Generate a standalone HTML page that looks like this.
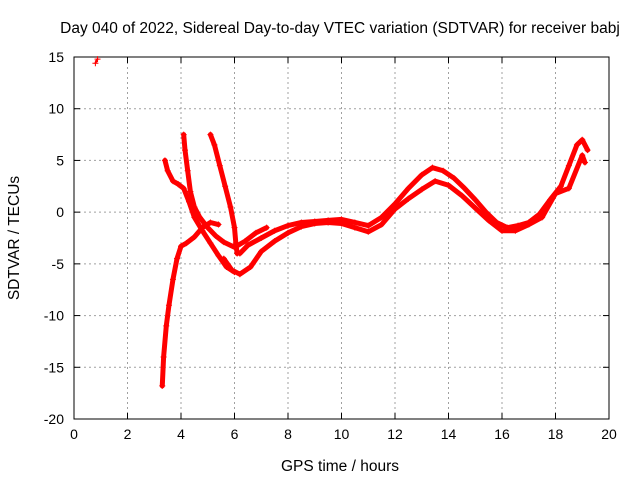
<!DOCTYPE html>
<html><head><meta charset="utf-8">
<style>
body{margin:0;background:#fff;}
svg{display:block;font-family:"Liberation Sans",sans-serif;}
</style></head>
<body>
<svg id="chart" width="640" height="480">
<rect width="640" height="480" fill="#fff"/>
<text x="340" y="33" text-anchor="middle" font-size="15.5">Day 040 of 2022, Sidereal Day-to-day VTEC variation (SDTVAR) for receiver babj</text>
<text x="340" y="471" text-anchor="middle" font-size="15.5">GPS time / hours</text>
<text transform="translate(19,238) rotate(-90)" text-anchor="middle" font-size="15.5">SDTVAR / TECUs</text>
<g id="grid"></g><g id="axes"></g><g id="marks"></g>
</svg>
<script>
const xTicks=[0,2,4,6,8,10,12,14,16,18,20];
const yTicks=[-20,-15,-10,-5,0,5,10,15];
const traceMainUpper=[[6.2,-4],[6.5,-3.2],[7,-2.5],[7.5,-1.8],[8,-1.3],[8.5,-1],[9,-0.9],[9.5,-0.8],[10,-0.7],[10.5,-1],[11,-1.3],[11.5,-0.5],[12,0.8],[12.5,2.3],[13,3.6],[13.4,4.3],[13.8,4],[14.2,3.3],[14.6,2.3],[15,1.2],[15.4,0],[15.8,-1],[16.2,-1.5],[16.6,-1.3],[17,-1],[17.4,-0.2],[17.8,1.2],[18.2,2.5],[18.5,4.5],[18.8,6.5],[19,7],[19.2,6]];
const traceMainLower=[[5.6,-4.5],[5.9,-5.6],[6.2,-6],[6.6,-5.3],[7,-3.8],[7.5,-2.8],[8,-2],[8.5,-1.4],[9,-1.1],[9.5,-1],[10,-1.1],[10.5,-1.5],[11,-1.9],[11.5,-1.2],[12,0.3],[12.5,1.3],[13,2.2],[13.5,3],[14,2.6],[14.5,1.6],[15,0.4],[15.5,-0.8],[16,-1.8],[16.5,-1.8],[17,-1.2],[17.5,-0.5],[18,1.8],[18.5,2.3],[19,5.5],[19.1,4.8]];
const traceRise=[[3.3,-16.8],[3.35,-14],[3.45,-11],[3.55,-9],[3.7,-6.5],[3.85,-4.5],[4,-3.3],[4.2,-3],[4.5,-2.4],[4.8,-1.5],[5.1,-1],[5.4,-1.2]];
const traceFall1=[[3.4,5],[3.5,4],[3.7,3],[3.9,2.7],[4.1,2.3],[4.3,1],[4.5,-0.5],[4.8,-1.8],[5.1,-3],[5.4,-4.2],[5.7,-5.3],[6,-5.8]];
const traceFall2=[[4.1,7.5],[4.15,6],[4.25,4],[4.35,2],[4.5,0.5],[4.7,-0.5],[5,-1.5],[5.3,-2.3],[5.6,-2.9],[6,-3.4],[6.4,-2.8],[6.8,-2],[7.2,-1.5]];
const traceFall3=[[5.1,7.5],[5.25,6.5],[5.45,4.5],[5.65,2.5],[5.85,0.5],[6,-1.5],[6.05,-3],[6.1,-4]];
const traceEarly=[[0.8,14.4],[0.88,14.8]];
const traces=[traceMainUpper,traceMainLower,traceRise,traceFall1,traceFall2,traceFall3,traceEarly];
const X0=74,X1=609,Y0=419,Y1=57;
const sx=v=>X0+(v-0)/20*(X1-X0);
const sy=v=>Y0-(v+20)/35*(Y0-Y1);
const NS="http://www.w3.org/2000/svg";
function mk(tag,attrs,parent){const e=document.createElementNS(NS,tag);for(const k in attrs)e.setAttribute(k,attrs[k]);parent.appendChild(e);return e;}
const grid=document.getElementById('grid'),axes=document.getElementById('axes'),marks=document.getElementById('marks');
xTicks.forEach(t=>{
  if(t>0&&t<20){const g=mk('line',{x1:sx(t),x2:sx(t),y1:Y0,y2:Y1,stroke:'#a0a0a0','stroke-dasharray':'2,3','stroke-width':1},grid);
  
  }
  const l=mk('text',{x:sx(t),y:Y0+20,'text-anchor':'middle','font-size':14},axes);l.textContent=t;
  
  
  mk('line',{x1:sx(t),x2:sx(t),y1:Y0,y2:Y0-6,stroke:'#000'},axes);
  mk('line',{x1:sx(t),x2:sx(t),y1:Y1,y2:Y1+6,stroke:'#000'},axes);
});
yTicks.forEach(t=>{
  if(t>-20&&t<15){const g=mk('line',{x1:X0,x2:X1,y1:sy(t),y2:sy(t),stroke:'#a0a0a0','stroke-dasharray':'2,3','stroke-width':1},grid);
  
  }
  const l=mk('text',{x:X0-10,y:sy(t)+5,'text-anchor':'end','font-size':14},axes);l.textContent=t;
  
  
  mk('line',{x1:X0,x2:X0+6,y1:sy(t),y2:sy(t),stroke:'#000'},axes);
  mk('line',{x1:X1,x2:X1-6,y1:sy(t),y2:sy(t),stroke:'#000'},axes);
});
const frame=mk('rect',{x:X0,y:Y1,width:X1-X0,height:Y0-Y1,fill:'none',stroke:'#000'},axes);


traces.forEach(tr=>{
  const pl=mk('polyline',{points:tr.map(p=>sx(p[0])+','+sy(p[1])).join(' '),fill:'none',stroke:'#f00','stroke-width':tr.length>2?5:2,'stroke-linejoin':'round','stroke-linecap':'round'},marks);
  
  
  tr.forEach(p=>{
    const x=sx(p[0]),y=sy(p[1]);
    const m=mk('path',{d:`M${x-3},${y}H${x+3}M${x},${y-3}V${y+3}`,stroke:'#f00','stroke-width':1},marks);
    
    
  });
});
</script>
</body></html>
